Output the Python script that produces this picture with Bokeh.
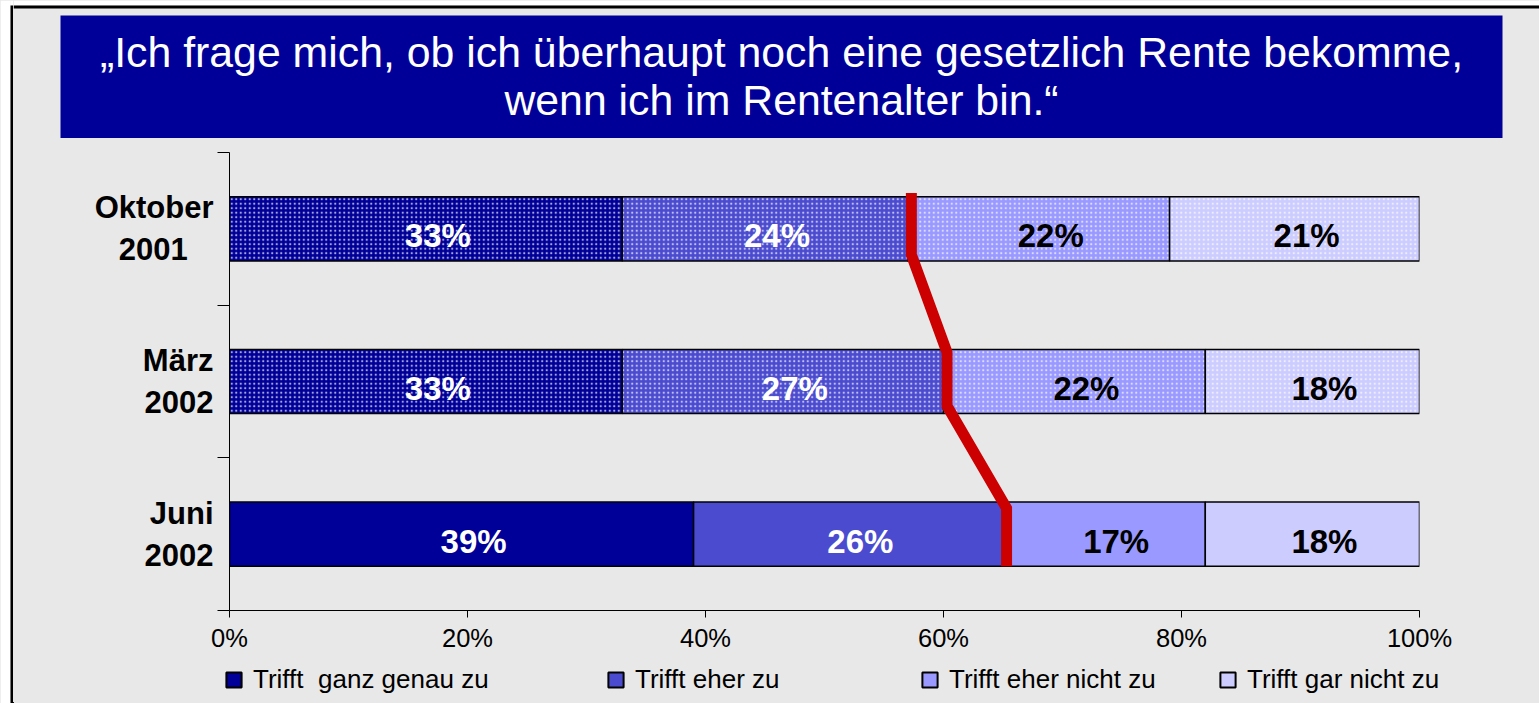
import numpy as np
from bokeh.plotting import figure
from bokeh.layouts import column, row
from bokeh.models import (ColumnDataSource, FixedTicker, PrintfTickFormatter, Legend,
                          LegendItem, BoxAnnotation, Label, Range1d)
from bokeh.core.properties import value
from bokeh.embed import file_html
from bokeh.resources import INLINE

# ---------------- data ----------------
title_lines = ["\u201eIch frage mich, ob ich \u00fcberhaupt noch eine gesetzlich Rente bekomme,",
               "wenn ich im Rentenalter bin.\u201c"]
categories = ["Oktober\n2001", "M\u00e4rz\n2002", "Juni\n2002"]
series_names = ["Trifft  ganz genau zu", "Trifft eher zu", "Trifft eher nicht zu", "Trifft gar nicht zu"]
ganz_genau = [33, 33, 39]
eher = [24, 27, 26]
eher_nicht = [22, 22, 17]
gar_nicht = [21, 18, 18]
tick_values = [0, 20, 40, 60, 80, 100]

series = [ganz_genau, eher, eher_nicht, gar_nicht]
colors = ["#000099", "#4B4BD0", "#9999FF", "#CCCCFF"]
label_colors = ["white", "white", "black", "black"]
hatches = ["dot", "dot", " "]          # first two surveys shown dotted
ypos = [2.5, 1.5, 0.5]
BAR_H = 0.42

FONT = "Liberation Sans"
BG = "#E8E8E8"
W, H = 1539, 703
TOP_H = 138
LEFT_W = 13
MAIN_H = 522
LEG_H = H - TOP_H - MAIN_H

# approximate bold glyph widths (1/1000 em) used to centre the two-line category labels
_BW = {"O": 778, "k": 556, "t": 333, "o": 611, "b": 611, "e": 556, "r": 389, "0": 556, "1": 556,
       "2": 556, "M": 833, "\u00e4": 556, "z": 500, "J": 556, "u": 611, "n": 611, "i": 278}


def centred(label):
    lines = label.split("\n")
    widths = [sum(_BW.get(c, 556) for c in ln) for ln in lines]
    wmax = max(widths)
    return "\n".join(ln + "\u00a0" * int(round((wmax - w) / 2 / 278)) for ln, w in zip(lines, widths))


def deco_fig(w, h, x0, y0):
    """helper canvas whose frame fills it entirely, in page pixel units (y downward)"""
    f = figure(width=w, height=h, output_backend="svg", toolbar_location=None,
               x_range=Range1d(x0, x0 + w), y_range=Range1d(y0 + h, y0),
               x_axis_location=None, y_axis_location=None, min_border=0,
               background_fill_color=BG, border_fill_color=BG, outline_line_color=None)
    f.grid.visible = False
    return f


def box(f, l, r, t, b, color):
    f.add_layout(BoxAnnotation(left=l, right=r, top=t, bottom=b, fill_color=color,
                               fill_alpha=1, line_color=None, level="underlay"))


# ---------- left border strip (full height) ----------
p_strip = deco_fig(LEFT_W, H, 0, 0)
box(p_strip, 0, 10, 0, H, "white")
box(p_strip, 10, LEFT_W, 0, 5, "white")
box(p_strip, 10, LEFT_W, 5, H, "black")

# ---------- top: frame border + title box ----------
p_top = deco_fig(W - LEFT_W, TOP_H, LEFT_W, 0)
box(p_top, LEFT_W, W, 0, 5, "white")
box(p_top, LEFT_W, W, 5, 8, "black")
box(p_top, 60, 1502, 15, TOP_H, "#000099")
for line, yb in zip(title_lines, [51, 99]):
    p_top.add_layout(Label(x=781, y=yb, text=line, text_align="center", text_baseline="alphabetic",
                           text_color="white", text_font=FONT, text_font_size="42.8px"))

# ---------- main chart ----------
p = figure(width=W - LEFT_W, height=MAIN_H, output_backend="svg", toolbar_location=None,
           x_range=Range1d(0, 100), y_range=Range1d(0, 3),
           min_border_left=229 - LEFT_W, min_border_right=W - 1419,
           min_border_top=152 - TOP_H, min_border_bottom=TOP_H + MAIN_H - 610,
           background_fill_color=BG, border_fill_color=BG, outline_line_color=None)
p.grid.visible = False

cum = np.cumsum(np.array(series, dtype=float), axis=0)
sources = []
for i, vals in enumerate(series):
    left = cum[i] - np.array(vals)
    right = cum[i]
    src = ColumnDataSource(dict(y=ypos, left=left, right=right, hatch=hatches,
                                mid=(left + right) / 2, txt=[f"{v}%" for v in vals]))
    sources.append(src)
    p.hbar(y="y", left="left", right="right", height=BAR_H, source=src,
           fill_color=colors[i], line_color="black", line_width=1.5,
           hatch_pattern="hatch", hatch_color="white", hatch_alpha=0.65,
           hatch_scale=4.5, hatch_weight=1.2)
    p.text(x="mid", y="y", text="txt", source=src, text_align="center", text_baseline="middle",
           text_color=label_colors[i], text_font=value(FONT), text_font_style="bold",
           text_font_size="33px", x_offset=12, y_offset=7)

# red separator line between agreement and disagreement
cum2 = cum[1]
lx, ly = [], []
top_ext = [0.235, 0.19, 0.17]
bot_ext = [0.17, 0.16, 0.21]
for k in range(3):
    lx += [cum2[k] + 0.3, cum2[k] + 0.3]
    ly += [ypos[k] + top_ext[k], ypos[k] - bot_ext[k]]
p.line(lx, ly, line_color="#CC0000", line_width=11, line_join="miter")

xa = p.xaxis[0]
xa.ticker = FixedTicker(ticks=tick_values, minor_ticks=[])
xa.formatter = PrintfTickFormatter(format="%d%%")
xa.major_tick_out = 7
xa.major_tick_in = 0
xa.major_label_standoff = 6
xa.major_label_text_font = FONT
xa.major_label_text_font_size = "25.5px"
xa.major_label_text_color = "black"
xa.axis_line_color = "black"
xa.major_tick_line_color = "black"

ya = p.yaxis[0]
ya.ticker = FixedTicker(ticks=ypos, minor_ticks=[0, 1, 2, 3])
ya.major_label_overrides = {y: centred(c) for y, c in zip(ypos, categories)}
ya.major_tick_out = 0
ya.major_tick_in = 0
ya.minor_tick_out = 12
ya.minor_tick_in = 0
ya.major_label_standoff = 4
ya.major_label_text_font = FONT
ya.major_label_text_font_style = "bold"
ya.major_label_text_font_size = "31px"
ya.major_label_text_color = "black"
ya.axis_line_color = "black"
ya.minor_tick_line_color = "black"

# ---------- legend strip ----------
# ranges chosen far away from the data so the swatch carriers themselves stay hidden
p_leg = figure(width=W - LEFT_W, height=LEG_H, output_backend="svg", toolbar_location=None,
               x_range=Range1d(5000, 6000), y_range=Range1d(5000, 6000),
               x_axis_location=None, y_axis_location=None, min_border=0,
               background_fill_color=BG, border_fill_color=BG, outline_line_color=None)
p_leg.grid.visible = False
leg_x = [224, 606, 920, 1218]
for i, vals in enumerate(series):
    r = p_leg.hbar(y="y", left="left", right="right", height=BAR_H, source=sources[i],
                   fill_color=colors[i], line_color="black", line_width=2,
                   hatch_pattern="hatch", hatch_color="white", hatch_alpha=0.65,
                   hatch_scale=4.5, hatch_weight=1.2)
    leg = Legend(items=[LegendItem(label=series_names[i], renderers=[r], index=2)],
                 location=(leg_x[i] - LEFT_W, 8), orientation="horizontal",
                 padding=0, margin=0, spacing=0, glyph_width=19, glyph_height=19,
                 label_standoff=10, label_text_font=FONT, label_text_font_size="26px",
                 label_text_color="black",
                 label_height=19, border_line_alpha=0, background_fill_alpha=0)
    p_leg.add_layout(leg, "center")

layout = row(p_strip, column(p_top, column(p), p_leg), styles={"background-color": BG})
open("out.html", "w").write(file_html(layout, INLINE))
